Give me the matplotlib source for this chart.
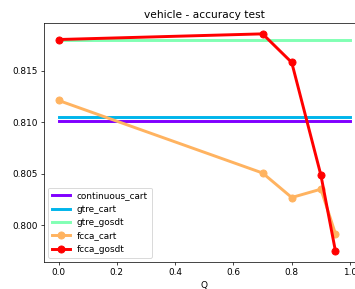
import numpy as np
import matplotlib
matplotlib.use("Agg")
import matplotlib.pyplot as plt

# =========================
# DATA
# =========================

Q = [0.0, 0.7, 0.8, 0.9, 0.95, 1.0]

continuous_cart = 0.81015
gtre_cart = 0.81056
gtre_gosdt = 0.81798

fcca_cart = [0.81212, 0.80507, 0.80269, 0.80350, 0.79916, np.nan]
fcca_gosdt = [0.81804, 0.81859, 0.81581, 0.80487, 0.79748, np.nan]

BASELINES = ["continuous_cart", "gtre_cart", "gtre_gosdt"]
BASE_VALUES = [continuous_cart, gtre_cart, gtre_gosdt]
FCCA = ["fcca_cart", "fcca_gosdt"]
FCCA_VALUES = [fcca_cart, fcca_gosdt]

# =========================
# PLOT
# =========================

DPI = 64
fig = plt.figure(figsize=(355 / DPI, 289 / DPI), dpi=DPI)
ax = fig.add_axes([44 / 355, 27 / 289, 320.6 / 355, 239 / 289])

colors = plt.cm.rainbow(np.linspace(0, 1, 5))

for i, (name, val) in enumerate(zip(BASELINES, BASE_VALUES)):
    ax.plot([Q[0], Q[-1]], [val, val], color=colors[i], lw=3.3, label=name)

for j, (name, vals) in enumerate(zip(FCCA, FCCA_VALUES)):
    ax.plot(Q, vals, color=colors[3 + j], lw=3.3, marker="o", ms=8, label=name)

ax.set_title("vehicle - accuracy test")
ax.set_xlabel("Q")
ax.legend(loc="lower left")

fig.savefig("out.png", dpi=DPI)
